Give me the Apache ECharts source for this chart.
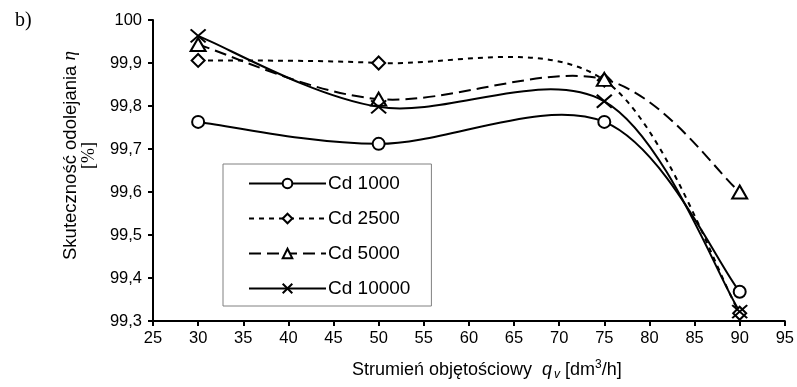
<!DOCTYPE html>
<html>
<head>
<meta charset="utf-8">
<script src="https://cdn.jsdelivr.net/npm/echarts@6/dist/echarts.min.js"></script>
<style>html,body{margin:0;padding:0;background:#fff}#c{width:797px;height:387px}</style>
</head>
<body>
<div id="c"></div>
<script>
var xValues = [30, 50, 75, 90];
var cd1000 = [99.763, 99.712, 99.763, 99.368];
var cd2500 = [99.906, 99.900, 99.860, 99.318];
var cd5000 = [99.943, 99.816, 99.862, 99.600];
var cd10000 = [99.963, 99.798, 99.811, 99.322];
var seriesNames = ['Cd 1000', 'Cd 2500', 'Cd 5000', 'Cd 10000'];
var xTicks = {min: 25, max: 95, step: 5};
var yTicks = {min: 99.3, max: 100, step: 0.1};

function pairs(ys) { return xValues.map(function (x, i) { return [x, ys[i]]; }); }

var font = 'Liberation Sans, Arial, sans-serif';
var serif = 'Liberation Serif, Times New Roman, serif';
var styles = {
  'Cd 1000': {symbol: 'circle', size: 12, type: 'solid'},
  'Cd 2500': {symbol: 'path://M5,0L10,5L5,10L0,5Z', size: 13, type: [5, 5]},
  'Cd 5000': {symbol: 'triangle', size: [15, 13], type: [12, 6]},
  'Cd 10000': {symbol: 'path://M0,0L10,10M10,0L0,10', size: [15, 13], type: 'solid'}
};
var dataByName = {'Cd 1000': cd1000, 'Cd 2500': cd2500, 'Cd 5000': cd5000, 'Cd 10000': cd10000};

// Excel-like smoothed curve (Catmull-Rom Bezier) through the data points, mapped by the axis scale
function curveSeries(name) {
  var ys = dataByName[name];
  var st = styles[name];
  return {
    name: name + ' curve', type: 'custom', coordinateSystem: 'cartesian2d', z: 1,
    silent: true, clip: false,
    data: [[xValues[0], ys[0]]],
    encode: {x: 0, y: 1},
    renderItem: function (params, api) {
      var p = xValues.map(function (x, i) { return api.coord([x, ys[i]]); });
      var n = p.length;
      var d = 'M' + p[0][0] + ',' + p[0][1];
      for (var i = 0; i < n - 1; i++) {
        var p0 = p[Math.max(i - 1, 0)], p1 = p[i], p2 = p[i + 1], p3 = p[Math.min(i + 2, n - 1)];
        var c1x = p1[0] + (p2[0] - p0[0]) / 6, c1y = p1[1] + (p2[1] - p0[1]) / 6;
        var c2x = p2[0] - (p3[0] - p1[0]) / 6, c2y = p2[1] - (p3[1] - p1[1]) / 6;
        d += 'C' + c1x + ',' + c1y + ',' + c2x + ',' + c2y + ',' + p2[0] + ',' + p2[1];
      }
      return {
        type: 'path',
        shape: {pathData: d},
        style: {fill: null, stroke: '#000', lineWidth: 2, lineDash: st.type === 'solid' ? null : st.type}
      };
    }
  };
}
function pointSeries(name) {
  var st = styles[name];
  return {
    name: name, type: 'line', z: 3, data: pairs(dataByName[name]),
    symbol: st.symbol, symbolSize: st.size, showSymbol: true,
    itemStyle: {color: '#fff', borderColor: '#000', borderWidth: 2},
    lineStyle: {color: '#000', width: 0, opacity: 0, type: st.type},
    emphasis: {disabled: true}, silent: true
  };
}
var series = [];
seriesNames.forEach(function (n) { series.push(curveSeries(n)); });
seriesNames.forEach(function (n) { series.push(pointSeries(n)); });

var chart = echarts.init(document.getElementById('c'), null, {renderer: 'canvas'});
chart.setOption({
  animation: false,
  backgroundColor: '#fff',
  title: {text: 'b)', left: 10, top: 6, textStyle: {fontFamily: serif, fontSize: 20, fontWeight: 'normal', color: '#000'}},
  grid: {left: 153, right: 11, top: 20, bottom: 66, containLabel: false},
  legend: {
    orient: 'vertical', left: 223, top: 164,
    padding: [10, 21, 8, 25],
    backgroundColor: '#fff', borderColor: '#808080', borderWidth: 1,
    itemWidth: 77, itemHeight: 12, itemGap: 16,
    textStyle: {fontFamily: font, fontSize: 19, color: '#000', padding: [0, 0, 0, -3]},
    data: seriesNames.map(function (n) {
      return {name: n, lineStyle: {color: '#000', width: 2, opacity: 1, type: styles[n].type}};
    })
  },
  xAxis: {
    type: 'value', min: xTicks.min, max: xTicks.max, interval: xTicks.step,
    axisLine: {lineStyle: {color: '#000', width: 2}},
    axisTick: {inside: false, length: 5, lineStyle: {color: '#000', width: 2}},
    axisLabel: {fontFamily: font, fontSize: 16.5, color: '#000', margin: 9},
    splitLine: {show: false},
    name: '{n|Strumień objętościowy  }{i|q}{s|v}{n| [dm}{p|3}{n|/h]}',
    nameLocation: 'middle', nameGap: 38,
    nameTextStyle: {
      padding: [0, 0, 0, 36],
      rich: {
        n: {fontFamily: font, fontSize: 18, color: '#000'},
        i: {fontFamily: font, fontSize: 18, fontStyle: 'italic', color: '#000'},
        s: {fontFamily: font, fontSize: 12, fontStyle: 'italic', color: '#000', padding: [9, 0, 0, 2]},
        p: {fontFamily: font, fontSize: 12, color: '#000', padding: [0, 0, 10, 0]}
      }
    }
  },
  yAxis: {
    type: 'value', min: yTicks.min, max: yTicks.max, interval: yTicks.step,
    axisLine: {show: true, lineStyle: {color: '#000', width: 2}},
    axisTick: {show: true, inside: false, length: 5, lineStyle: {color: '#000', width: 2}},
    axisLabel: {fontFamily: font, fontSize: 16.5, color: '#000', margin: 11,
      formatter: function (v) { return Math.abs(v - 100) < 1e-6 ? '100' : v.toFixed(1).replace('.', ','); }},
    splitLine: {show: false},
    name: '{n|Skuteczność odolejania }{i|η}\n{b|[%]}',
    nameLocation: 'middle', nameGap: 47, nameRotate: 90,
    nameTextStyle: {
      lineHeight: 19,
      padding: [0, 0, 0, 30],
      rich: {
        n: {fontFamily: font, fontSize: 18.5, color: '#000', lineHeight: 19},
        i: {fontFamily: serif, fontSize: 19, fontStyle: 'italic', color: '#000', lineHeight: 19},
        b: {fontFamily: serif, fontSize: 18, color: '#000', lineHeight: 19}
      }
    }
  },
  series: series
});
</script>
</body>
</html>
